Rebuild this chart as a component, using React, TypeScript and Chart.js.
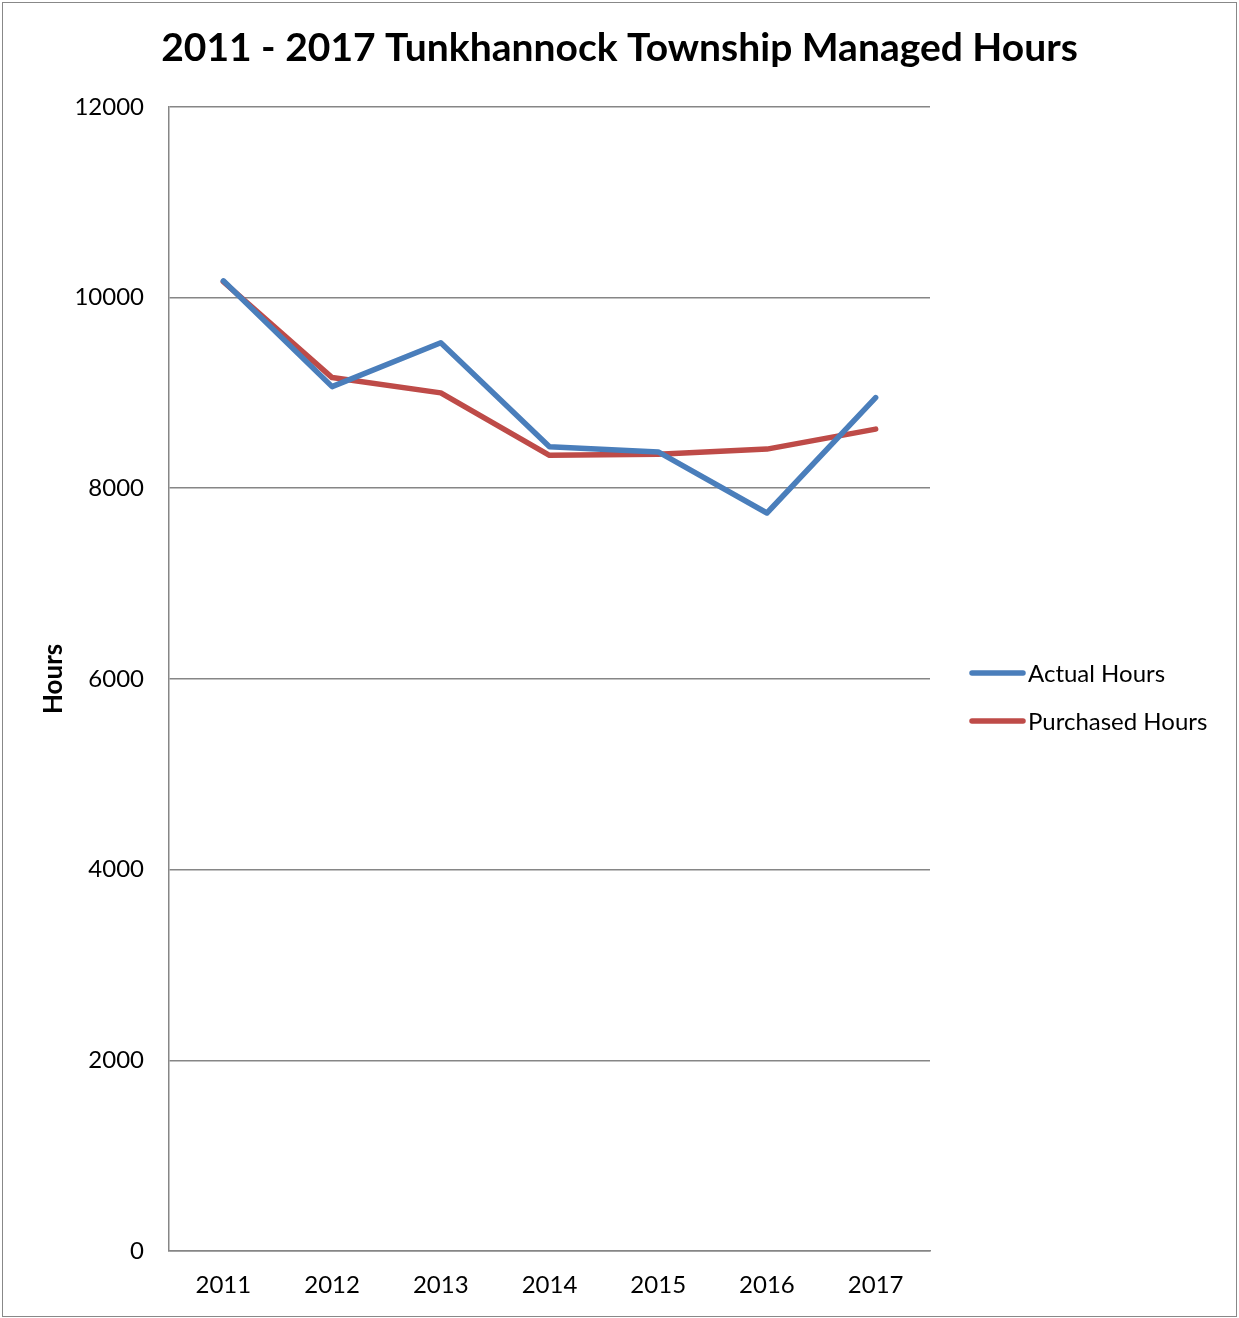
import React, { useEffect, useRef } from "react";
import { Chart, registerables } from "chart.js";

Chart.register(...registerables);

const categories = ["2011", "2012", "2013", "2014", "2015", "2016", "2017"];
const actualHours = [10175, 9065, 9525, 8435, 8380, 7740, 8950];
const purchasedHours = [10165, 9160, 9000, 8345, 8355, 8410, 8620];
const seriesNames = ["Actual Hours", "Purchased Hours"];
const titleText = "2011 - 2017 Tunkhannock Township Managed Hours";
const yAxisTitle = "Hours";

const W = 1239;
const H = 1318;
const FONT = "Lato, 'Open Sans', sans-serif";

const sideLegend = {
  id: "sideLegend",
  afterDraw(chart: any) {
    const ctx = chart.ctx;
    const ds = chart.data.datasets;
    const x0 = 970;
    const lineLen = 53;
    const startY = 673;
    const gap = 48;
    ctx.save();
    ctx.font = "24px " + FONT;
    ctx.textBaseline = "middle";
    ctx.textAlign = "left";
    ds.forEach((d: any, i: number) => {
      const y = startY + i * gap;
      ctx.strokeStyle = d.borderColor;
      ctx.lineWidth = 5.5;
      ctx.lineCap = "round";
      ctx.beginPath();
      ctx.moveTo(x0 + 2, y);
      ctx.lineTo(x0 + lineLen, y);
      ctx.stroke();
      ctx.fillStyle = "#000";
      ctx.fillText(d.label, x0 + lineLen + 5, y + 1);
    });
    ctx.restore();
  },
};

export default function App() {
  const ref = useRef<HTMLCanvasElement | null>(null);

  useEffect(() => {
    document.body.style.margin = "0";
    const canvas = ref.current;
    if (!canvas) return;
    const chart = new Chart(canvas, {
      type: "line",
      data: {
        labels: categories,
        datasets: [
          {
            label: seriesNames[0],
            data: actualHours,
            borderColor: "#4A7EBB",
            backgroundColor: "#4A7EBB",
            borderWidth: 5.5,
            pointRadius: 0,
            tension: 0,
            borderJoinStyle: "round",
            borderCapStyle: "round",
            yAxisID: "y",
          },
          {
            label: seriesNames[1],
            data: purchasedHours,
            borderColor: "#BE4B48",
            backgroundColor: "#BE4B48",
            borderWidth: 5.5,
            pointRadius: 0,
            tension: 0,
            borderJoinStyle: "round",
            borderCapStyle: "round",
            yAxisID: "y",
          },
        ],
      },
      options: {
        responsive: false,
        animation: false,
        layout: { padding: 0 },
        plugins: {
          legend: { display: false },
          tooltip: { enabled: false },
          title: {
            display: true,
            text: titleText,
            color: "#000",
            font: { family: FONT, size: 39, weight: "bold", lineHeight: 1.2 },
            padding: { top: 25, bottom: 35 },
            fullSize: true,
          },
        },
        scales: {
          x: {
            type: "category",
            offset: true,
            grid: { display: false, drawTicks: false },
            border: { display: true, color: "#868686", width: 1.5 },
            ticks: {
              color: "#000",
              font: { family: FONT, size: 24 },
              padding: 20,
              maxRotation: 0,
            },
            afterFit: (s: any) => {
              s.height = 67;
            },
          },
          y: {
            position: "left",
            min: 0,
            max: 12000,
            grid: { color: "#868686", lineWidth: 1.5, drawTicks: false },
            border: { display: true, color: "#868686", width: 1.5 },
            ticks: {
              stepSize: 2000,
              color: "#000",
              font: { family: FONT, size: 24 },
              padding: 25,
              callback: (v: any) => String(v),
            },
            title: {
              display: true,
              text: yAxisTitle,
              color: "#000",
              font: { family: FONT, size: 26, weight: "bold", lineHeight: 1.2 },
              padding: { top: 38, bottom: 0 },
            },
            afterFit: (s: any) => {
              s.width = 169;
            },
          },
          legendSpace: {
            position: "right",
            display: true,
            grid: { display: false, drawTicks: false },
            border: { display: false },
            ticks: { display: false },
            afterFit: (s: any) => {
              s.width = W - 930;
            },
          },
        },
      },
      plugins: [sideLegend],
    });
    return () => chart.destroy();
  }, []);

  return (
    <div style={{ position: "absolute", left: 0, top: 0, width: W, height: H, background: "#fff" }}>
      <canvas ref={ref} width={W} height={H} style={{ display: "block", width: W, height: H }} />
      <div
        style={{
          position: "absolute",
          left: 2,
          top: 2,
          width: W - 6,
          height: H - 5,
          border: "1.5px solid #888",
          pointerEvents: "none",
        }}
      />
    </div>
  );
}
